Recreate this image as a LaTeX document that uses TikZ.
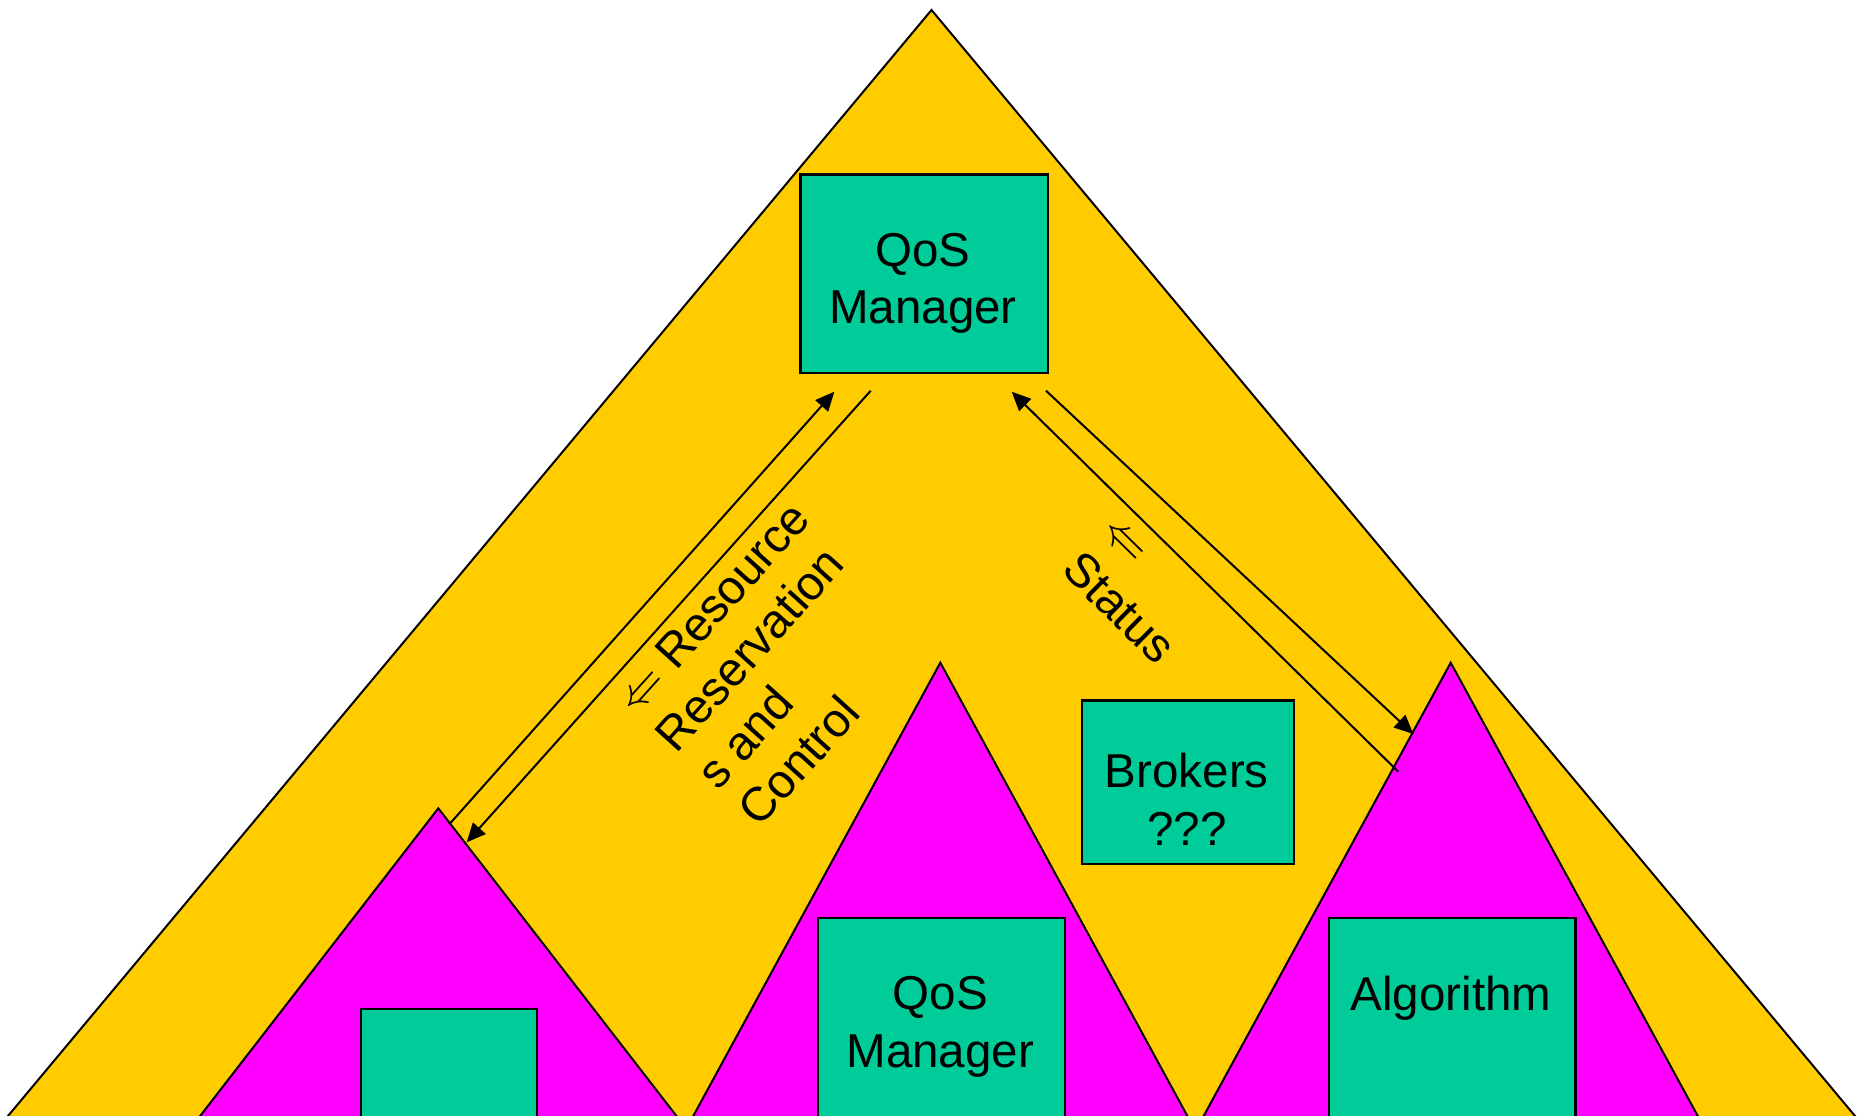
\documentclass[tikz,border=0pt]{standalone}
\usepackage{graphicx}
\usepackage{fontspec}
\setmainfont{Liberation Sans}
\usetikzlibrary{arrows.meta}
\definecolor{pyramid}{HTML}{FFCC00}
\definecolor{subpyramid}{HTML}{FF00FF}
\definecolor{module}{HTML}{00CC99}
% thin double arrow at the size of the label text
\newcommand{\dblarrow}{\scalebox{4.77}{\fontsize{10}{12}\selectfont$\Leftarrow$}}
\begin{document}
\begin{tikzpicture}[x=1bp,y=-1bp,
  outline/.style={draw=black,line width=2bp,line join=miter},
  modulebox/.style={draw=black,line width=2.2bp,fill=module,rectangle,
    anchor=north west,inner sep=0pt},
  boxtext/.style={font=\fontsize{47.7}{58}\selectfont,align=center,inner sep=0pt},
  flowlabel/.style={font=\fontsize{47.7}{56}\selectfont,align=left,inner sep=0pt},
  flow/.style={line width=2bp,-{Triangle[length=19bp,width=17bp]}}
]
\clip (0,0) rectangle (1862,1115);
\fill[white] (0,0) rectangle (1862,1115);

% outer pyramid
\coordinate (topApex) at (931.5,10);
\coordinate (topL) at (-3.7,1130);
\coordinate (topR) at (1866.7,1130);
\filldraw[outline,fill=pyramid] (topL) -- (topApex) -- (topR) -- cycle;

% lower-level pyramids
\coordinate (leftApex) at (438.3,808.3);
\coordinate (midApex) at (940.3,662.7);
\coordinate (rightApex) at (1450.7,662.7);
\filldraw[outline,fill=subpyramid] (189.3,1130) -- (leftApex) -- (687.3,1130) -- cycle;
\filldraw[outline,fill=subpyramid] (685.6,1130) -- (midApex) -- (1195,1130) -- cycle;
\filldraw[outline,fill=subpyramid] (1196,1130) -- (rightApex) -- (1705.4,1130) -- cycle;

% module boxes
\node[modulebox,minimum width=247.4bp,minimum height=198.4bp] (qosTop) at (799.3,173.3) {};
\node[modulebox,minimum width=211.7bp,minimum height=163.4bp] (brokers) at (1081,699.3) {};
\node[modulebox,minimum width=247.3bp,minimum height=240bp] (qosMid) at (816.7,916.7) {};
\node[modulebox,minimum width=246.6bp,minimum height=240bp] (algo) at (1327.7,916.7) {};
\node[modulebox,minimum width=176bp,minimum height=140bp] (leftMod) at (360,1007.7) {};

% box captions
\node[boxtext] (qosTopText) at (923,283.3) {QoS\\Manager};
\node[boxtext] (brokersText) at (1186.8,798.9) {Brokers\\???};
\node[boxtext] (qosMidText) at (940.3,1026.9) {QoS\\Manager};
\node[boxtext] (algoText) at (1451,998) {Algorithm};

% connector end points
\coordinate (rrUpFrom) at (449.3,824.3);
\coordinate (rrUpTo) at (834.3,391.7);
\coordinate (rrDownFrom) at (870.7,390.7);
\coordinate (rrDownTo) at (466.7,842.3);
\coordinate (stUpFrom) at (1398.3,771.7);
\coordinate (stUpTo) at (1011.7,391.7);
\coordinate (stDownFrom) at (1046,390.7);
\coordinate (stDownTo) at (1413.3,734);

\draw[flow] (rrUpFrom) -- (rrUpTo);
\draw[flow] (rrDownFrom) -- (rrDownTo);
\draw[flow] (stUpFrom) -- (stUpTo);
\draw[flow] (stDownFrom) -- (stDownTo);

% connector labels
\node[flowlabel,rotate=48] (rrLabel) at (774,664)
  {\dblarrow{} Resource\\Reservation\\s and\\Control};
\node[flowlabel,rotate=-44.5] (stLabel) at (1133.6,593.2)
  {\dblarrow\\Status};
\end{tikzpicture}
\end{document}
